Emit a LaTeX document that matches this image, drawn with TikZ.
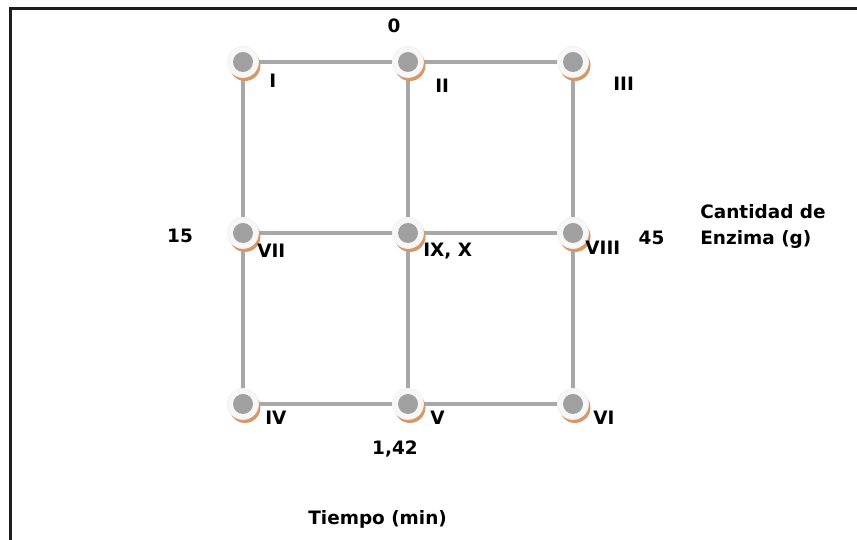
\documentclass[tikz,border=0pt]{standalone}
\usepackage{fontspec}
\setmainfont{DejaVu Sans}
\usetikzlibrary{shadows,backgrounds}
\definecolor{ringcol}{RGB}{247,247,247}
\definecolor{discol}{RGB}{160,160,160}
\definecolor{linecol}{RGB}{168,168,168}
\definecolor{shadcol}{RGB}{214,152,104}
\definecolor{framecol}{RGB}{30,30,30}
\begin{document}
\begin{tikzpicture}[
  dot/.style={circle,minimum size=6.2mm,inner sep=0pt,fill=ringcol,draw=gray!12,
    path picture={\fill[discol] (path picture bounding box.center) circle[radius=2mm];},
    drop shadow={shadow xshift=0.4mm,shadow yshift=-0.7mm,fill=shadcol,opacity=1}},
  link/.style={line width=0.8mm,linecol},
  tag/.style={font=\fontsize{10.5}{12.6}\selectfont\bfseries,inner sep=0pt,anchor=base west},
  num/.style={tag,anchor=base}]
\useasboundingbox (0,0) rectangle (171.4mm,108mm);
\draw[line width=0.6mm,framecol] (2mm,0) -- (2mm,106.3mm) -- (172mm,106.3mm);
% grid points
\foreach \n/\x/\y in {I/48.6/95.6,II/81.6/95.6,III/114.6/95.6,VII/48.6/61.4,IX/81.6/61.4,VIII/114.6/61.4,IV/48.6/27.2,V/81.6/27.2,VI/114.6/27.2} {
  \node[dot] (\n) at (\x mm,\y mm) {};
}
\begin{pgfonlayer}{background}
\foreach \a/\b in {I/II,II/III,VII/IX,IX/VIII,IV/V,V/VI,I/VII,VII/IV,II/IX,IX/V,III/VIII,VIII/VI} {
  \draw[link] (\a) -- (\b);
}
\end{pgfonlayer}
% point names
\foreach \n/\t/\x/\y in {I/I/53.8/90.4,II/II/87.0/89.4,III/III/122.6/89.8,VII/VII/51.4/56.4,IX/{IX, X}/84.6/56.6,VIII/VIII/117.0/57.0,IV/IV/53.0/23.0,V/V/86.0/23.0,VI/VI/118.6/23.0} {
  \node[tag] (t\n) at (\x mm,\y mm) {\t};
}
% levels and axes
\node[num] (n0) at (78.8mm,101.4mm) {0};
\node[num] (n15) at (36.0mm,59.4mm) {15};
\node[num] (n45) at (130.3mm,59.0mm) {45};
\node[num] (n142) at (79.0mm,17.0mm) {1,42};
\node[tag] (qty) at (140.0mm,64.2mm) {Cantidad de};
\node[tag] (qtyb) at (140.0mm,59.0mm) {Enzima (g)};
\node[tag] (time) at (61.6mm,3.0mm) {Tiempo (min)};
\end{tikzpicture}
\end{document}
